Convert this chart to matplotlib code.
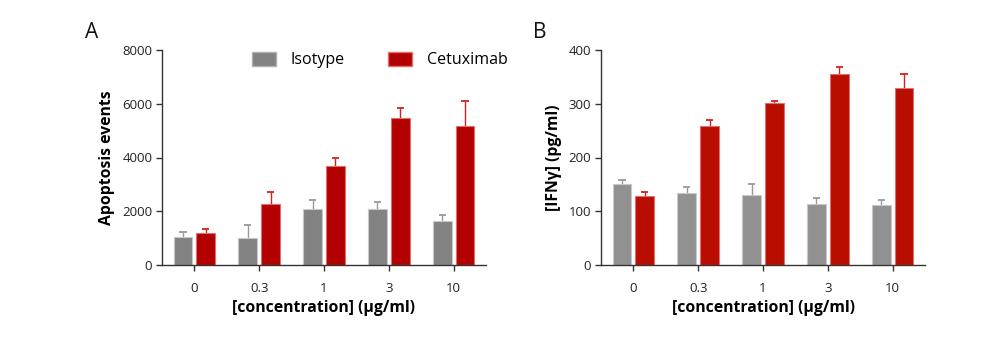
import matplotlib
matplotlib.use("Agg")
import matplotlib.pyplot as plt
import numpy as np
from matplotlib.patches import Patch

plt.rcParams['font.family'] = ['Open Sans', 'DejaVu Sans']

categories = ['0', '0.3', '1', '3', '10']
series_names = ['Isotype', 'Cetuximab']

apop_iso = [1030, 1020, 2085, 2070, 1650]
apop_iso_err = [210, 470, 345, 290, 210]
apop_cet = [1200, 2280, 3700, 5480, 5185]
apop_cet_err = [150, 450, 295, 365, 905]

ifn_iso = [150, 134, 131, 114, 111]
ifn_iso_err = [8, 12, 20, 10, 10]
ifn_cet = [129, 258, 302, 355, 329]
ifn_cet_err = [7, 11, 4, 13, 26]

fig = plt.figure(figsize=(9.83, 3.42), dpi=100)
axA = fig.add_axes([162/983, 77/342, 324/983, 215/342])
axB = fig.add_axes([601/983, 77/342, 324/983, 215/342])

x = np.arange(len(categories))
w = 0.29
off = 0.175
cap = 0.055

def upper_err(ax, xs, vals, errs, col):
    vals = np.asarray(vals, float)
    tops = vals + np.asarray(errs, float)
    ax.vlines(xs, vals, tops, colors=col, linewidth=1.0, zorder=1)
    ax.hlines(tops, xs - cap, xs + cap, colors=col, linewidth=1.3, zorder=1)

def draw(ax, iso, iso_err, cet, cet_err, gcol, rcol, ymax, yticks, ylabel):
    ax.bar(x - off, iso, w, color=gcol, edgecolor='#c8c8c8', linewidth=0.8, zorder=2)
    ax.bar(x + off, cet, w, color=rcol, edgecolor='#e07070', linewidth=0.8, zorder=2)
    upper_err(ax, x - off, iso, iso_err, '#999999')
    upper_err(ax, x + off, cet, cet_err, '#d42020')
    ax.set_xlim(-0.5, 4.5)
    ax.set_ylim(0, ymax)
    ax.set_yticks(yticks)
    ax.set_xticks(x)
    ax.set_xticklabels(categories)
    for s in ['top', 'right']:
        ax.spines[s].set_visible(False)
    for s in ['left', 'bottom']:
        ax.spines[s].set_color('#333333')
        ax.spines[s].set_linewidth(1.0)
    ax.tick_params(axis='both', direction='out', length=4, width=1, color='#333333',
                   labelsize=9.5, labelcolor='#222222', pad=3)
    ax.tick_params(axis='x', pad=8)
    ax.set_xlabel('[concentration] (µg/ml)', fontsize=11.3, fontweight='bold', labelpad=4)
    ax.set_ylabel(ylabel, fontsize=11.3, fontweight='bold', labelpad=5)

draw(axA, apop_iso, apop_iso_err, apop_cet, apop_cet_err, '#828282', '#b30000',
     8000, [0, 2000, 4000, 6000, 8000], 'Apoptosis events')
draw(axB, ifn_iso, ifn_iso_err, ifn_cet, ifn_cet_err, '#919191', '#b90d00',
     400, [0, 100, 200, 300, 400], '[IFNγ] (pg/ml)')

handles = [Patch(facecolor='#828282', edgecolor='#b0b0b0'),
           Patch(facecolor='#b30000', edgecolor='#e07070')]
fig.legend(handles, series_names, loc='center left', bbox_to_anchor=(252/983, 1 - 60/342),
           ncol=2, frameon=False, fontsize=11.5, handlelength=1.5, handleheight=1.0,
           handletextpad=0.9, columnspacing=2.75, borderpad=0, borderaxespad=0)

fig.text(85/983, 1 - 33/342, 'A', fontsize=15, va='center', ha='left', color='#111111')
fig.text(533/983, 1 - 33/342, 'B', fontsize=15, va='center', ha='left', color='#111111')

fig.savefig('out.png', dpi=100)
